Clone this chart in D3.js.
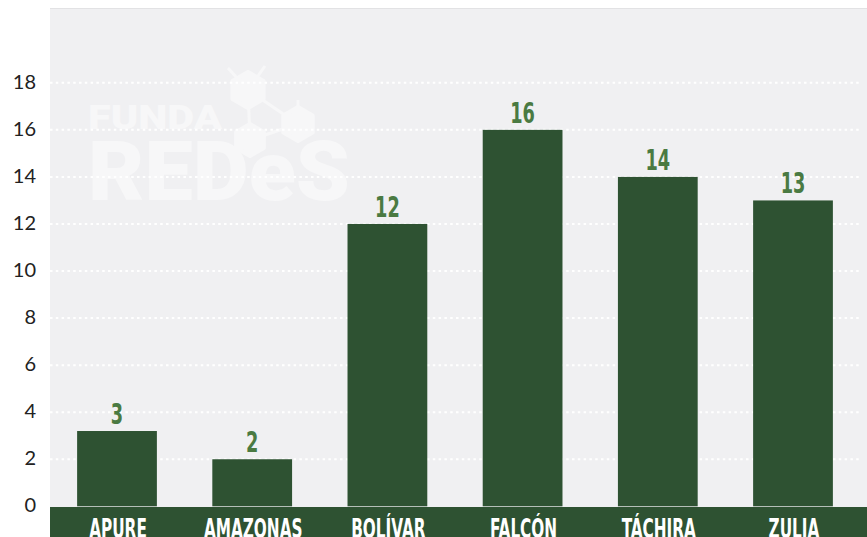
<!DOCTYPE html>
<html>
<head>
<meta charset="utf-8">
<script src="https://cdn.jsdelivr.net/npm/d3@7"></script>
<style>
    body { margin: 0; background: #fff; }
    svg { display: block; }
</style>
</head>
<body>
<div id="chart"></div>
<script>
    const states = ['APURE', 'AMAZONAS', 'BOLÍVAR', 'FALCÓN', 'TÁCHIRA', 'ZULIA'];
    const values = [3.2, 2, 12, 16, 14, 13];
    const valueLabels = ['3', '2', '12', '16', '14', '13'];
    const yTicks = [0, 2, 4, 6, 8, 10, 12, 14, 16, 18];

    const wSvg = 867;
    const hSvg = 537;
    const green = '#2e5232';
    const labelGreen = '#4a7a42';
    const condensed = '"DejaVu Sans Condensed", "DejaVu Sans", sans-serif';

    const svg = d3.select('#chart')
        .append('svg')
        .attr('width', wSvg)
        .attr('height', hSvg);

    // plot background
    svg.append('rect')
        .attr('x', 50).attr('y', 8)
        .attr('width', wSvg - 50).attr('height', 499)
        .attr('fill', '#f0f0f2');
    svg.append('line')
        .attr('x1', 50).attr('x2', wSvg)
        .attr('y1', 8.5).attr('y2', 8.5)
        .attr('stroke', '#e2e2e4');

    const x = d3.scaleBand()
        .domain(states)
        .range([49.4, 860.6])
        .paddingInner(0.41)
        .paddingOuter(0.205);

    const y = d3.scaleLinear()
        .domain([0, 18])
        .range([506.3, 82.8]);

    // watermark
    const wm = svg.append('g').attr('fill', '#f7f7f8').attr('stroke', '#f7f7f8');
    const hex = (cx, cy, r) => d3.range(6).map(i => {
        const a = Math.PI / 6 + i * Math.PI / 3;
        return [cx + r * Math.cos(a), cy + r * Math.sin(a)];
    });
    [[[228, 68], [248, 90]], [[265, 66], [248, 90]], [[248, 90], [298, 124]], [[298, 124], [298, 100]],
     [[248, 90], [250, 140]], [[250, 140], [298, 124]]].forEach(l => {
        wm.append('line')
            .attr('x1', l[0][0]).attr('y1', l[0][1])
            .attr('x2', l[1][0]).attr('y2', l[1][1])
            .attr('stroke-width', 3);
    });
    [[248, 90, 18], [298, 124, 17], [250, 140, 16]].forEach(h => {
        wm.append('polygon')
            .attr('points', hex(h[0], h[1], h[2]).join(' '))
            .attr('stroke-width', 4)
            .attr('stroke-linejoin', 'round');
    });
    wm.append('text')
        .attr('x', 88).attr('y', 129)
        .attr('font-family', 'Roboto, sans-serif')
        .attr('font-weight', 900)
        .attr('font-size', 34)
        .attr('stroke', 'none')
        .attr('textLength', 134)
        .attr('lengthAdjust', 'spacingAndGlyphs')
        .text('FUNDA');
    wm.append('text')
        .attr('x', 88).attr('y', 200)
        .attr('font-family', 'Roboto, sans-serif')
        .attr('font-weight', 900)
        .attr('font-size', 84)
        .attr('stroke', 'none')
        .attr('textLength', 262)
        .attr('lengthAdjust', 'spacingAndGlyphs')
        .text('REDeS');

    // gridlines
    svg.append('g')
        .selectAll('line')
        .data(yTicks.filter(d => d > 0))
        .join('line')
        .attr('x1', 50)
        .attr('x2', 860)
        .attr('y1', d => y(d))
        .attr('y2', d => y(d))
        .attr('stroke', '#ffffff')
        .attr('stroke-width', 2)
        .attr('stroke-dasharray', '2.5 3.3');

    // y labels
    svg.append('g')
        .selectAll('text')
        .data(yTicks)
        .join('text')
        .attr('x', 36)
        .attr('y', d => y(d) - 1)
        .attr('dy', '0.35em')
        .attr('text-anchor', 'end')
        .attr('font-family', 'Lato, sans-serif')
        .attr('font-size', 20)
        .attr('fill', '#222')
        .text(d => d);

    // bars
    svg.append('g')
        .selectAll('rect')
        .data(values)
        .join('rect')
        .attr('x', (d, i) => x(states[i]))
        .attr('y', d => y(d))
        .attr('width', x.bandwidth())
        .attr('height', d => y(0) - y(d))
        .attr('fill', green);

    const squeeze = (cx, k) => `translate(${cx},0) scale(${k},1) translate(${-cx},0)`;

    svg.append('g')
        .selectAll('text')
        .data(values)
        .join('text')
        .attr('x', (d, i) => x(states[i]) + x.bandwidth() / 2)
        .attr('y', d => y(d) - 7)
        .attr('text-anchor', 'middle')
        .attr('font-family', condensed)
        .attr('font-weight', 'bold')
        .attr('font-size', 29)
        .attr('fill', labelGreen)
        .attr('transform', (d, i) => squeeze(x(states[i]) + x.bandwidth() / 2, 0.68))
        .text((d, i) => valueLabels[i]);

    // bottom band
    svg.append('rect')
        .attr('x', 50).attr('y', 507)
        .attr('width', wSvg - 50).attr('height', hSvg - 507)
        .attr('fill', green);

    svg.append('g')
        .selectAll('text')
        .data(states)
        .join('text')
        .attr('x', d => x(d) + x.bandwidth() / 2 + 1)
        .attr('y', 538)
        .attr('text-anchor', 'middle')
        .attr('font-family', condensed)
        .attr('font-weight', 'bold')
        .attr('font-size', 27)
        .attr('fill', '#ffffff')
        .attr('transform', d => squeeze(x(d) + x.bandwidth() / 2 + 1, 0.63))
        .text(d => d);
</script>
</body>
</html>
